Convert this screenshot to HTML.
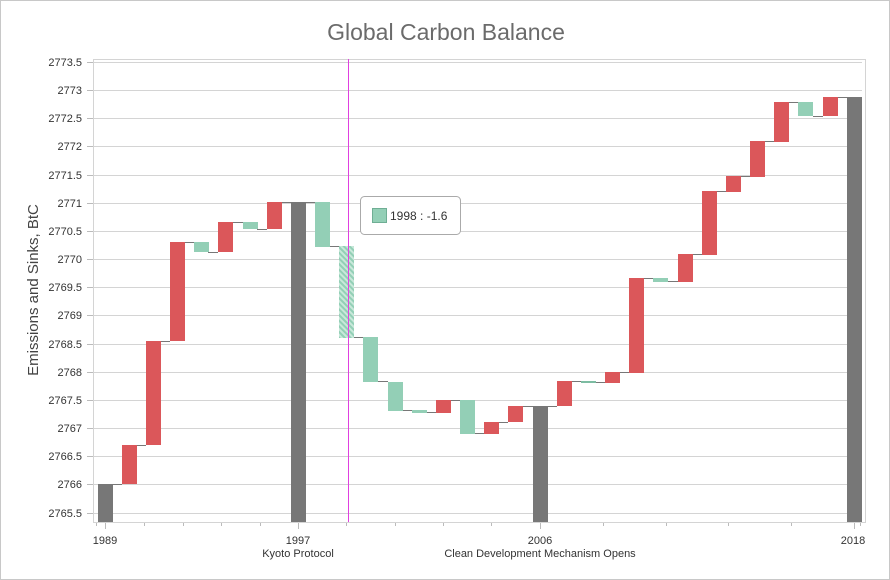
<!DOCTYPE html>
<html><head><meta charset="utf-8"><style>
body{margin:0;background:#fff}
svg{display:block;font-family:"Liberation Sans",sans-serif}
</style></head><body>
<svg width="890" height="580" viewBox="0 0 890 580" xmlns="http://www.w3.org/2000/svg">
<defs>
<pattern id="h" width="4" height="4" patternUnits="userSpaceOnUse" patternTransform="rotate(-45)">
<rect width="4" height="4" fill="#c9e8da"/><rect width="2" height="4" fill="#93cfb6"/>
</pattern>
</defs>
<rect x="0.5" y="0.5" width="889" height="579" fill="#fff" stroke="#c8c8c8"/>
<text x="446" y="40" text-anchor="middle" font-size="23" fill="#6b6b6b">Global Carbon Balance</text>
<text transform="translate(38,290) rotate(-90)" text-anchor="middle" font-size="15" fill="#444">Emissions and Sinks, BtC</text>
<g stroke="#d4d4d4" stroke-width="1">
<line x1="93" x2="862" y1="62.5" y2="62.5"/><line x1="93" x2="862" y1="90.5" y2="90.5"/><line x1="93" x2="862" y1="118.5" y2="118.5"/><line x1="93" x2="862" y1="146.5" y2="146.5"/><line x1="93" x2="862" y1="175.5" y2="175.5"/><line x1="93" x2="862" y1="203.5" y2="203.5"/><line x1="93" x2="862" y1="231.5" y2="231.5"/><line x1="93" x2="862" y1="259.5" y2="259.5"/><line x1="93" x2="862" y1="287.5" y2="287.5"/><line x1="93" x2="862" y1="315.5" y2="315.5"/><line x1="93" x2="862" y1="344.5" y2="344.5"/><line x1="93" x2="862" y1="372.5" y2="372.5"/><line x1="93" x2="862" y1="400.5" y2="400.5"/><line x1="93" x2="862" y1="428.5" y2="428.5"/><line x1="93" x2="862" y1="456.5" y2="456.5"/><line x1="93" x2="862" y1="484.5" y2="484.5"/><line x1="93" x2="862" y1="513.5" y2="513.5"/>
<line x1="93" x2="865" y1="59.5" y2="59.5"/>
<line x1="93.5" x2="93.5" y1="59" y2="523"/>
<line x1="865.5" x2="865.5" y1="59" y2="523"/>
<line x1="93" x2="865" y1="522.5" y2="522.5"/>
</g>
<g stroke="#bbb">
<line x1="87" x2="93" y1="62.5" y2="62.5"/><line x1="87" x2="93" y1="90.5" y2="90.5"/><line x1="87" x2="93" y1="118.5" y2="118.5"/><line x1="87" x2="93" y1="146.5" y2="146.5"/><line x1="87" x2="93" y1="175.5" y2="175.5"/><line x1="87" x2="93" y1="203.5" y2="203.5"/><line x1="87" x2="93" y1="231.5" y2="231.5"/><line x1="87" x2="93" y1="259.5" y2="259.5"/><line x1="87" x2="93" y1="287.5" y2="287.5"/><line x1="87" x2="93" y1="315.5" y2="315.5"/><line x1="87" x2="93" y1="344.5" y2="344.5"/><line x1="87" x2="93" y1="372.5" y2="372.5"/><line x1="87" x2="93" y1="400.5" y2="400.5"/><line x1="87" x2="93" y1="428.5" y2="428.5"/><line x1="87" x2="93" y1="456.5" y2="456.5"/><line x1="87" x2="93" y1="484.5" y2="484.5"/><line x1="87" x2="93" y1="513.5" y2="513.5"/>
<line x1="105.5" x2="105.5" y1="523" y2="529"/><line x1="298.5" x2="298.5" y1="523" y2="529"/><line x1="540.5" x2="540.5" y1="523" y2="529"/><line x1="854.5" x2="854.5" y1="523" y2="529"/>
<g stroke-width="1"><line x1="144.5" x2="144.5" y1="523" y2="526"/><line x1="183.5" x2="183.5" y1="523" y2="526"/><line x1="221.5" x2="221.5" y1="523" y2="526"/><line x1="260.5" x2="260.5" y1="523" y2="526"/><line x1="346.5" x2="346.5" y1="523" y2="526"/><line x1="395.5" x2="395.5" y1="523" y2="526"/><line x1="443.5" x2="443.5" y1="523" y2="526"/><line x1="491.5" x2="491.5" y1="523" y2="526"/><line x1="603.5" x2="603.5" y1="523" y2="526"/><line x1="666.5" x2="666.5" y1="523" y2="526"/><line x1="728.5" x2="728.5" y1="523" y2="526"/><line x1="791.5" x2="791.5" y1="523" y2="526"/><line x1="96.5" x2="96.5" y1="523" y2="526"/><line x1="860.5" x2="860.5" y1="523" y2="526"/></g>
</g>
<g font-size="11" fill="#333" text-anchor="end">
<text x="82" y="66">2773.5</text><text x="82" y="94">2773</text><text x="82" y="122">2772.5</text><text x="82" y="150">2772</text><text x="82" y="179">2771.5</text><text x="82" y="207">2771</text><text x="82" y="235">2770.5</text><text x="82" y="263">2770</text><text x="82" y="291">2769.5</text><text x="82" y="319">2769</text><text x="82" y="348">2768.5</text><text x="82" y="376">2768</text><text x="82" y="404">2767.5</text><text x="82" y="432">2767</text><text x="82" y="460">2766.5</text><text x="82" y="488">2766</text><text x="82" y="517">2765.5</text>
</g>
<g font-size="11" fill="#333" text-anchor="middle">
<text x="105" y="544">1989</text><text x="298" y="544">1997</text><text x="298" y="557">Kyoto Protocol</text><text x="540" y="544">2006</text><text x="540" y="557">Clean Development Mechanism Opens</text><text x="853" y="544">2018</text>
</g>
<g stroke="#777" stroke-width="1">
<line x1="112" x2="122" y1="484.5" y2="484.5"/><line x1="136" x2="146" y1="445.5" y2="445.5"/><line x1="160" x2="170" y1="341.5" y2="341.5"/><line x1="184" x2="194" y1="242.5" y2="242.5"/><line x1="208" x2="218" y1="252.5" y2="252.5"/><line x1="233" x2="243" y1="222.5" y2="222.5"/><line x1="257" x2="267" y1="229.5" y2="229.5"/><line x1="281" x2="291" y1="202.5" y2="202.5"/><line x1="305" x2="315" y1="202.5" y2="202.5"/><line x1="329" x2="339" y1="246.5" y2="246.5"/><line x1="353" x2="363" y1="337.5" y2="337.5"/><line x1="378" x2="388" y1="381.5" y2="381.5"/><line x1="402" x2="412" y1="410.5" y2="410.5"/><line x1="426" x2="436" y1="412.5" y2="412.5"/><line x1="450" x2="460" y1="400.5" y2="400.5"/><line x1="474" x2="484" y1="433.5" y2="433.5"/><line x1="498" x2="508" y1="422.5" y2="422.5"/><line x1="522" x2="533" y1="406.5" y2="406.5"/><line x1="547" x2="557" y1="406.5" y2="406.5"/><line x1="571" x2="581" y1="381.5" y2="381.5"/><line x1="595" x2="605" y1="382.5" y2="382.5"/><line x1="619" x2="629" y1="372.5" y2="372.5"/><line x1="643" x2="653" y1="278.5" y2="278.5"/><line x1="668" x2="678" y1="281.5" y2="281.5"/><line x1="692" x2="702" y1="254.5" y2="254.5"/><line x1="716" x2="726" y1="191.5" y2="191.5"/><line x1="740" x2="750" y1="176.5" y2="176.5"/><line x1="764" x2="774" y1="141.5" y2="141.5"/><line x1="788" x2="798" y1="102.5" y2="102.5"/><line x1="813" x2="823" y1="116.5" y2="116.5"/><line x1="837" x2="847" y1="97.5" y2="97.5"/>
</g>
<g>
<rect x="98" y="484" width="15" height="38" fill="#777"/>
<rect x="122" y="445" width="15" height="39" fill="#db575a"/>
<rect x="146" y="341" width="15" height="104" fill="#db575a"/>
<rect x="170" y="242" width="15" height="99" fill="#db575a"/>
<rect x="194" y="242" width="15" height="10" fill="#93cfb6"/>
<rect x="218" y="222" width="15" height="30" fill="#db575a"/>
<rect x="243" y="222" width="15" height="7" fill="#93cfb6"/>
<rect x="267" y="202" width="15" height="27" fill="#db575a"/>
<rect x="291" y="202" width="15" height="320" fill="#777"/>
<rect x="315" y="202" width="15" height="45" fill="#93cfb6"/>
<rect x="339" y="246" width="15" height="92" fill="url(#h)"/>
<rect x="363" y="337" width="15" height="45" fill="#93cfb6"/>
<rect x="388" y="382" width="15" height="29" fill="#93cfb6"/>
<rect x="412" y="410" width="15" height="3" fill="#93cfb6"/>
<rect x="436" y="400" width="15" height="13" fill="#db575a"/>
<rect x="460" y="400" width="15" height="34" fill="#93cfb6"/>
<rect x="484" y="422" width="15" height="12" fill="#db575a"/>
<rect x="508" y="406" width="15" height="16" fill="#db575a"/>
<rect x="533" y="406" width="15" height="116" fill="#777"/>
<rect x="557" y="381" width="15" height="25" fill="#db575a"/>
<rect x="581" y="381" width="15" height="2" fill="#7dbca2"/>
<rect x="605" y="372" width="15" height="11" fill="#db575a"/>
<rect x="629" y="278" width="15" height="95" fill="#db575a"/>
<rect x="653" y="278" width="15" height="4" fill="#93cfb6"/>
<rect x="678" y="254" width="15" height="28" fill="#db575a"/>
<rect x="702" y="191" width="15" height="64" fill="#db575a"/>
<rect x="726" y="176" width="15" height="16" fill="#db575a"/>
<rect x="750" y="141" width="15" height="36" fill="#db575a"/>
<rect x="774" y="102" width="15" height="40" fill="#db575a"/>
<rect x="798" y="102" width="15" height="14" fill="#93cfb6"/>
<rect x="823" y="97" width="15" height="19" fill="#db575a"/>
<rect x="847" y="97" width="15" height="425" fill="#777"/>
</g>
<line x1="348.5" x2="348.5" y1="59" y2="522" stroke="#e040e0" stroke-width="1"/>
<rect x="360.5" y="196.5" width="100" height="38" rx="4" fill="#fff" stroke="#aaa"/>
<rect x="372.5" y="208.5" width="14" height="14" fill="#93cfb6" stroke="#6fae94"/>
<text x="390" y="220" font-size="12" fill="#333">1998 : -1.6</text>
</svg>
</body></html>
